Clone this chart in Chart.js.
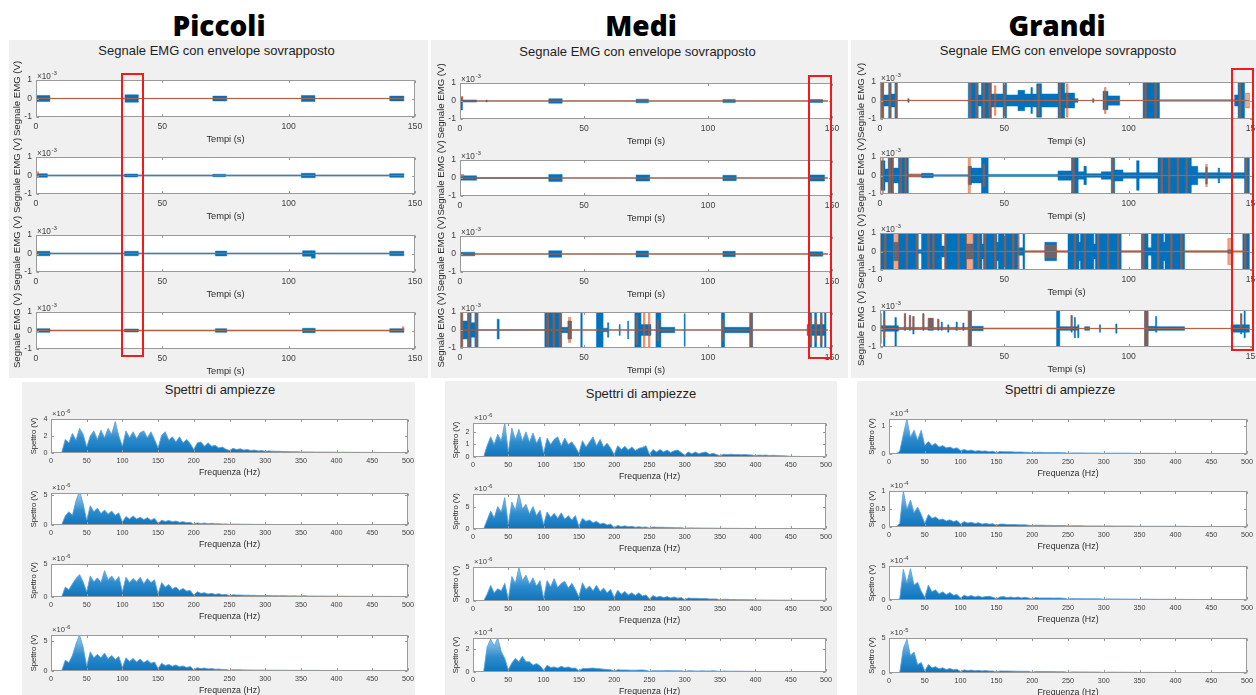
<!DOCTYPE html>
<html><head><meta charset="utf-8">
<script src="https://cdn.jsdelivr.net/npm/chart.js@4.4.1/dist/chart.umd.min.js"></script>
<style>
html,body{margin:0;padding:0;width:1256px;height:695px;overflow:hidden;background:#fff;font-family:"Liberation Sans",Arial,sans-serif;}
.panel{position:absolute;background:#f0f0f0;}
.hdr{position:absolute;top:6px;width:200px;text-align:center;font-family:"Open Sans",sans-serif;font-weight:800;font-size:28px;line-height:38px;color:#000;}
.ptitle{position:absolute;width:300px;text-align:center;font-size:13px;line-height:16px;color:#1f1f1f;white-space:nowrap;}
canvas{position:absolute;}
.red{position:absolute;box-sizing:border-box;border:2.5px solid #f21a1a;}
</style></head>
<body>
<script>
// ---------------- DATA ----------------
const GROUPS = ['Piccoli','Medi','Grandi'];
const EMG_TITLE = 'Segnale EMG con envelope sovrapposto';
const SPEC_TITLE = 'Spettri di ampiezze';
const EMG_XLABEL = 'Tempi (s)', EMG_YLABEL = 'Segnale EMG (V)';
const SPEC_XLABEL = 'Frequenza (Hz)', SPEC_YLABEL = 'Spettro (V)';
const EMG_XTICKS = [0,50,100,150];
const EMG_YTICKS = [-1,0,1];
const EMG_EXP = '-3';
const SPEC_XTICKS = [0,50,100,150,200,250,300,350,400,450,500];
const BLUE_BASE = 0.004, ORANGE_BASE = 0.01;   // quiet-baseline half-amplitude (x1e-3 V)
const EMG_END = [145.6, 148.3, 148.6];          // end of recording (s) per group

// EMG segments: [t0, t1, upper, (lower)]  in units of 1e-3 V
const P1_SIG = [[0,5.5,0.16],[35.2,40.5,0.2],[70,75.5,0.13],[105,110.4,0.16],[140,145.6,0.13]];
const P1_ENV = [];
const P2_SIG = [[0,4.5,0.1],[4.5,35,0.03],[35,40.2,0.08],[40.2,70,0.03],[70,75,0.07],[75,105,0.03],[105,110.5,0.12],[110.5,140,0.03],[140,145.6,0.1]];
const P2_ENV = [[0,1,0.2,-0.03]];
const P3_SIG = [[0,5.5,0.12],[5.5,35,0.025],[35,40.5,0.12],[40.5,71,0.025],[71,75.5,0.13],[75.5,105.5,0.025],[105.5,109,0.15],[109,110.5,0.15,-0.25],[110.5,140,0.025],[140,145.6,0.12]];
const P3_ENV = [];
const P4_SIG = [[0,5.5,0.1],[5.5,35,0.02],[35,40.5,0.08],[40.5,71,0.02],[71,75.5,0.1],[75.5,105.5,0.02],[105.5,110.5,0.12],[110.5,140,0.02],[140,145.6,0.1]];
const P4_ENV = [[145,145.6,0.2,-0.01]];

const M1_SIG = [[0.3,1,0.2,-0.5],[1,6.7,0.06],[10.5,11,0.05],[35.8,41.2,0.12],[71,76,0.1],[106,111,0.09],[141,146.3,0.08]];
const M1_ENV = [[0.3,1.2,0.25,-0.05]];
const M2_SIG = [[0.3,6.7,0.12],[6.7,35.8,0.03],[35.8,41.2,0.2],[71,76.5,0.17],[106,111.4,0.15],[141,147,0.17]];
const M2_ENV = [[0.3,1.5,0.2,-0.02]];
const M3_SIG = [[0.3,6,0.1],[35.8,41,0.18],[71,76,0.17],[106,111,0.15],[141,146.3,0.12]];
const M3_ENV = [];
const M4_SIG = [[0,1,1],[1,3,0.5],[3,4.5,1],[4.5,6,0.4],[6,7.3,1],[7.3,15,0.02],[15,15.8,0.6,-0.5],[15.8,34.2,0.02],[34.2,41,1],[41,43.5,0.15],[43.5,45,0.5],[48.7,49.3,1],[55,57.7,1],[57.7,59.5,0.1],[59.5,60,0.4],[64.2,64.6,0.3],[67.6,68,0.5],[70.5,73,1],[73,77,0.3],[79,81,1],[81,86.6,0.15],[90.4,90.8,0.9],[105.4,106.7,1],[106.7,116.8,0.15],[116.8,118,1],[140,141,0.3],[141,141.8,1],[141.8,143,0.3],[143,143.8,1],[143.8,145.3,0.3],[145.3,146,1],[146,147,0.3],[147,147.6,1]];
const M4_ENV = [[0.5,1.2,1],[3.3,4,1],[6.3,7,1],[35,35.7,1],[37.5,38.2,1],[40,40.7,1],[43.8,44.6,0.7],[71,71.6,0.8],[74,74.6,1],[76,76.6,1],[79.5,80.1,0.6],[105.6,106.2,0.6],[117,117.8,1],[141.2,141.8,0.8],[143.2,143.8,0.6],[145.4,146,0.8]];

const G1_SIG = [[0.5,1.5,1],[1.5,3.5,0.3],[3.5,4.5,1],[4.5,6,0.35],[6,7,1],[11.2,11.7,0.1],[35.5,39.5,1],[39.5,40.8,0.3],[40.8,44.8,1],[44.8,49.5,0.35],[49.5,50.9,1],[50.9,55.5,0.3],[55.5,58.2,0.55],[58.2,60.7,0.35],[60.7,61.3,0.7],[61.3,63,0.35],[63,65,0.9],[65,71.6,0.35],[71.6,74.3,1],[74.3,78.3,0.4],[78.3,79.6,0.1],[85.5,86,0.1],[89.7,91.7,0.5],[91.7,96.4,0.25],[105.8,112.4,1],[142.6,144,0.3],[144,146.6,1]];
const G1_ENV = [[0.8,1.3,1],[3.7,4.3,1],[6.2,6.8,0.9],[36,36.6,1],[38.5,39.2,1],[41.5,42.1,1],[43.8,44.5,1],[46,46.6,0.8],[49.8,50.4,1],[63.5,64.1,0.8],[72,72.6,1],[75,75.6,0.9],[90.3,90.9,0.7],[106.5,107.1,1],[110.5,111.1,1],[112.4,142.6,0.05],[144.5,145.1,1],[147,148.6,0.4]];
const G2_SIG = [[0.4,2,0.8],[2,3.3,0.35],[3.3,5.4,1],[5.4,7.4,0.4],[7.4,11.4,1],[11.4,16.7,0.06],[16.7,21.4,0.12],[21.4,35.5,0.04],[35.5,36.8,0.5],[36.8,40.8,0.4],[40.8,43.5,1],[43.5,71.6,0.06],[71.6,77,0.25],[77,79.7,1],[79.7,82,0.2],[82,83,0.5],[83,89,0.1],[89,93,0.2],[93,94.4,1],[94.4,97.7,0.3],[97.7,103.2,0.15],[103.2,104.2,0.8],[104.2,111.8,0.15],[111.8,125.2,1],[125.2,127.8,0.5],[127.8,131,0.15],[131,131.6,0.45],[131.6,136,0.15],[136,136.6,0.4],[136.6,146.6,0.15],[146.6,148.6,1]];
const G2_ENV = [[0.8,1.4,1],[3.6,4.2,1],[4.8,5.3,1],[8,8.6,1],[10,10.6,1],[11.4,16.7,0.08],[35.5,36.3,1],[41.5,42.1,0.6],[77.5,78.1,1],[93.2,93.8,1],[113,113.6,1],[116,116.6,1],[119.5,120.1,1],[123,123.6,1],[131,131.6,0.6],[147,147.6,1]];
const G3_SIG = [[0,5.4,1],[5.4,7.4,0.5],[7.4,15.4,1],[15.4,16.7,0.1],[16.7,24.8,1],[24.8,26.1,0.3],[26.1,34.8,1],[34.8,37.5,0.4],[37.5,41,1],[41,41.6,0.4],[41.6,47,1],[47,47.6,0.5],[47.6,55.6,1],[55.6,57.5,0.2],[57.5,58.2,1],[58.2,66.3,0.03],[66.3,71,0.5],[71,75.6,0.03],[75.6,80,1],[80,80.6,0.5],[80.6,86,1],[86,86.6,0.4],[86.6,97,1],[97,105.1,0.03],[105.1,107.8,1],[107.8,109.1,0.2],[109.1,114,1],[114,114.6,0.5],[114.6,122.5,1],[122.5,139.9,0.03],[139.9,141.9,0.1],[145.9,148.6,1]];
const G3_ENV = [[1.8,2.4,1],[5.4,7.4,1],[10.5,11.1,1],[14.5,15.1,1],[19.2,19.8,1],[21.2,21.8,1],[25.9,26.5,1],[31.3,31.9,1],[34.8,37.5,1],[39.3,39.9,1],[42,42.6,1],[46,46.6,1],[50,50.6,1],[53.3,53.9,1],[55.4,56,1],[58.2,66.3,0.04],[66.3,71,0.35],[71,75.6,0.04],[78.1,78.7,1],[82.1,82.7,1],[87.5,88.1,1],[91.5,92.1,1],[95.5,96.1,1],[97,105.1,0.04],[105.6,106.2,1],[111.6,112.2,1],[116.9,117.5,1],[120.9,121.5,1],[122.5,139.9,0.04],[139.9,141.9,0.7],[141.9,145.9,0.04],[146.6,147.2,1]];
const G4_SIG = [[0,1.4,0.15],[1.4,2,1],[2,6,0.15],[6,6.6,0.6,-1],[6.6,7.4,0.15],[7.4,9.8,0.06],[9.8,10.3,0.8,-0.1],[10.3,11.8,0.06],[11.8,12.3,0.7,-0.1],[12.3,13.2,0.06],[13.2,13.7,0.65,-0.3],[13.7,17.2,0.06],[17.2,17.7,0.8,-0.1],[17.7,19.4,0.06],[19.4,21.4,0.55,-0.1],[21.4,23.2,0.06],[23.2,23.7,0.5,-0.1],[23.7,24.6,0.06],[24.6,25.1,0.35,-0.1],[25.1,27.2,0.06],[27.2,27.7,0.2],[27.7,30.6,0.06],[30.6,31.1,0.35,-0.1],[31.1,33.3,0.06],[33.3,33.8,0.3,-0.1],[33.8,35.5,0.06],[35.5,36.8,1],[36.8,41.5,0.12],[41.5,71,0.02],[71,72.3,1],[72.3,76.8,0.1],[76.8,77.3,0.7,-0.2],[77.3,78.1,0.1],[78.1,78.6,0.6,-0.5],[78.6,79.5,0.1],[79.5,80,0.2,-0.5],[82.3,84.3,0.1],[88.2,88.7,0.2],[94.8,95.3,0.25],[106.4,107.8,1],[107.8,110.8,0.12],[110.8,111.3,0.65,-0.2],[111.3,122.5,0.1],[141.2,145,0.2],[145,145.5,0.8,-0.3],[145.5,146.4,0.2],[146.4,146.9,1,-0.5],[146.9,148.6,0.2]];
const G4_ENV = [[0,0.6,0.8],[1.4,2,0.5],[9.8,10.3,0.8,-0.02],[11.8,12.3,0.7,-0.02],[13.2,13.7,0.65,-0.02],[17.2,17.7,0.8,-0.02],[19.4,21.4,0.55,-0.02],[23.2,23.7,0.5,-0.02],[35.5,36.8,1],[76.8,77.3,0.7,-0.02],[106.4,107.8,0.9],[145,145.5,0.8,-0.02]];

// Spectra: frequency grid (Hz) and upper envelope values
const FREQ = [0,5,10,15,20,25,30,35,40,45,50,55,60,65,70,75,80,85,90,95,100,105,110,115,120,125,130,135,140,145,150,155,160,165,170,175,180,185,190,195,200,205,210,215,220,225,230,235,240,245,250,255,260,265,270,275,280,285,290,295,300,305,310,315,320,325,330,335,340,345,350,355,360,365,370,375,380,385,390,395,400,405,410,415,420,425,430,435,440,445,450,455,460,465,470,475,480,485,490,495,500];
const P_S1 = [0,0,0,0.05,1.6,1.2,2.3,1.5,2.9,2.2, 0.7,2.0,2.6,1.6,2.7,1.8,2.9,2.2,3.7,2.0, 0.8,2.6,1.8,2.5,1.7,2.4,2.6,1.8,2.5,1.6, 0.6,2.1,2.5,1.5,1.9,1.3,1.9,1.2,1.6,1.1, 0.4,1.2,1.3,0.8,1.2,0.8,0.9,0.6,0.7,0.45, 0.3,0.55,0.4,0.5,0.35,0.4,0.3,0.35,0.25,0.28, 0.22,0.25,0.22,0.2,0.2,0.18,0.17,0.16,0.15,0.14, 0.12,0.13,0.12,0.12,0.11,0.11,0.1,0.1,0.1,0.1, 0.09,0.09,0.09,0.08,0.08,0.08,0.08,0.07,0.07,0.07, 0.07,0.07,0.06,0.06,0.06,0.06,0.06,0.06,0.05,0.05, 0.05];
const P_S2 = [0,0,0,0.05,1.5,2.2,1.6,4.0,5.6,3.5, 0.8,3.2,2.2,2.8,1.9,2.5,1.8,2.3,1.6,2.0, 0.5,1.4,1.0,1.5,1.0,1.3,0.9,1.2,0.8,1.1, 0.3,0.8,0.6,0.75,0.55,0.65,0.45,0.55,0.4,0.45, 0.15,0.35,0.25,0.32,0.22,0.28,0.2,0.22,0.16,0.18, 0.1,0.15,0.14,0.13,0.12,0.12,0.11,0.1,0.1,0.1, 0.09,0.09,0.09,0.08,0.08,0.08,0.08,0.08,0.07,0.07, 0.07,0.07,0.07,0.07,0.06,0.06,0.06,0.06,0.06,0.06, 0.06,0.06,0.06,0.05,0.05,0.05,0.05,0.05,0.05,0.05, 0.05,0.05,0.05,0.05,0.05,0.04,0.04,0.04,0.04,0.04, 0.04];
const P_S3 = [0,0,0,0.05,1.5,1.1,2.0,2.8,3.4,2.3, 0.8,3.2,2.3,2.9,2.2,4.0,2.6,3.2,2.4,3.1, 0.8,3.0,2.2,2.8,2.3,3.0,2.0,2.8,2.2,2.6, 0.5,2.2,1.5,1.9,1.2,1.5,1.0,1.3,0.9,1.0, 0.3,0.8,0.55,0.65,0.45,0.55,0.4,0.5,0.35,0.4, 0.2,0.35,0.3,0.3,0.28,0.28,0.25,0.25,0.22,0.22, 0.2,0.22,0.2,0.2,0.18,0.2,0.18,0.17,0.18,0.16, 0.16,0.2,0.15,0.15,0.14,0.14,0.14,0.13,0.13,0.13, 0.12,0.12,0.12,0.11,0.11,0.11,0.1,0.1,0.1,0.1, 0.1,0.09,0.09,0.09,0.09,0.09,0.08,0.08,0.08,0.08, 0.08];
const P_S4 = [0,0,0,0.05,1.8,1.4,2.6,4.5,6.0,4.0, 0.8,3.2,2.2,2.8,2.2,3.0,2.0,2.6,1.9,2.4, 0.6,2.2,1.6,2.1,1.5,2.0,1.4,1.8,1.3,1.5, 0.4,1.3,0.9,1.1,0.8,1.0,0.7,0.85,0.6,0.75, 0.2,0.55,0.4,0.5,0.35,0.4,0.3,0.32,0.25,0.25, 0.12,0.22,0.2,0.2,0.18,0.18,0.16,0.16,0.15,0.15, 0.14,0.14,0.13,0.13,0.12,0.12,0.12,0.11,0.11,0.11, 0.1,0.11,0.1,0.1,0.1,0.1,0.09,0.09,0.09,0.09, 0.09,0.08,0.08,0.08,0.08,0.08,0.08,0.07,0.07,0.07, 0.07,0.07,0.07,0.07,0.06,0.06,0.06,0.06,0.06,0.06, 0.06];
const M_S1 = [0,0,0,0,0.9,1.6,1.0,1.8,1.3,2.7, 0.4,2.3,1.4,2.2,1.3,2.0,1.2,1.9,1.1,1.6, 0.3,1.5,1.0,1.4,1.6,0.9,1.5,1.0,1.2,0.8, 0.3,1.3,0.8,1.2,1.6,0.9,1.4,0.8,1.1,0.7, 0.2,0.9,0.6,0.85,0.55,0.8,0.5,0.7,0.75,0.9, 0.2,0.6,0.4,0.6,0.4,0.55,0.35,0.5,0.55,0.35, 0.15,0.4,0.25,0.4,0.25,0.35,0.4,0.22,0.3,0.2, 0.1,0.22,0.2,0.22,0.2,0.2,0.18,0.2,0.17,0.16, 0.12,0.15,0.14,0.15,0.12,0.13,0.12,0.1,0.1,0.08, 0.05,0.05,0.05,0.04,0.04,0.04,0.04,0.04,0.04,0.04, 0.04];
const M_S2 = [0,0,0,0,2.0,4.0,2.5,5.0,3.8,7.0, 1.0,6.0,4.2,7.8,4.5,5.5,3.4,5.0,3.0,4.2, 1.0,3.8,2.6,3.5,2.4,3.6,2.2,3.0,2.0,3.0, 0.6,2.4,1.7,2.0,1.4,1.7,1.1,1.3,0.9,1.1, 0.3,0.8,0.55,0.7,0.5,0.6,0.4,0.5,0.38,0.45, 0.2,0.45,0.4,0.4,0.38,0.35,0.35,0.3,0.3,0.3, 0.15,0.25,0.25,0.22,0.22,0.2,0.2,0.2,0.18,0.18, 0.15,0.16,0.15,0.15,0.14,0.14,0.13,0.13,0.12,0.12, 0.12,0.12,0.11,0.11,0.1,0.1,0.1,0.1,0.09,0.09, 0.09,0.08,0.08,0.08,0.08,0.08,0.08,0.08,0.08,0.08, 0.08];
const M_S3 = [0,0,0,0,1.0,2.3,1.2,1.8,1.5,2.6, 0.3,3.6,2.6,4.9,3.0,3.8,2.5,3.4,2.2,3.0, 0.4,3.0,2.1,3.3,2.0,2.6,2.9,1.9,2.6,1.7, 0.6,2.7,1.7,2.2,1.5,2.3,1.4,1.9,1.2,1.7, 0.5,1.6,1.0,1.4,0.9,1.2,0.8,1.2,0.75,0.9, 0.3,0.8,0.55,0.7,0.5,0.65,0.45,0.6,0.42,0.5, 0.2,0.45,0.4,0.4,0.38,0.35,0.35,0.3,0.3,0.3, 0.15,0.25,0.25,0.22,0.22,0.2,0.2,0.2,0.18,0.18, 0.15,0.15,0.15,0.14,0.14,0.13,0.13,0.12,0.12,0.12, 0.12,0.1,0.1,0.1,0.1,0.1,0.1,0.1,0.1,0.1, 0.1];
const M_S4 = [0,0,0,0,2.2,2.9,2.3,3.0,1.8,1.2, 0.2,0.8,1.2,0.9,1.4,0.9,0.9,0.6,0.75,0.55, 0.15,0.6,0.4,0.45,0.35,0.5,0.38,0.45,0.33,0.35, 0.1,0.3,0.3,0.32,0.35,0.3,0.28,0.25,0.22,0.2, 0.08,0.2,0.18,0.18,0.17,0.16,0.16,0.17,0.18,0.15, 0.06,0.12,0.12,0.11,0.12,0.13,0.12,0.11,0.1,0.1, 0.06,0.1,0.1,0.09,0.09,0.1,0.09,0.09,0.1,0.08, 0.05,0.08,0.08,0.07,0.07,0.07,0.07,0.06,0.06,0.06, 0.05,0.05,0.05,0.05,0.05,0.05,0.05,0.05,0.05,0.05, 0.04,0.04,0.04,0.04,0.04,0.04,0.04,0.04,0.04,0.04, 0.04];
const G_S1 = [0,0,0,0.1,0.7,1.25,0.6,0.85,0.5,0.85, 0.3,0.45,0.3,0.38,0.25,0.3,0.22,0.25,0.19,0.22, 0.12,0.16,0.12,0.14,0.1,0.12,0.1,0.11,0.08,0.1, 0.05,0.09,0.08,0.08,0.08,0.07,0.07,0.07,0.06,0.06, 0.04,0.06,0.06,0.055,0.05,0.05,0.05,0.05,0.045,0.045, 0.03,0.04,0.04,0.04,0.04,0.035,0.035,0.035,0.035,0.03, 0.025,0.03,0.03,0.03,0.03,0.03,0.03,0.03,0.025,0.025, 0.02,0.025,0.025,0.025,0.025,0.025,0.02,0.02,0.02,0.02, 0.02,0.02,0.02,0.02,0.02,0.02,0.02,0.02,0.02,0.02, 0.015,0.015,0.015,0.015,0.015,0.015,0.015,0.015,0.015,0.015, 0.015];
const G_S2 = [0,0,0,0.1,1.0,0.5,0.75,0.4,0.55,0.35, 0.1,0.35,0.24,0.28,0.2,0.22,0.17,0.2,0.15,0.18, 0.08,0.15,0.11,0.13,0.1,0.12,0.08,0.1,0.08,0.09, 0.05,0.08,0.08,0.07,0.07,0.07,0.06,0.06,0.06,0.05, 0.04,0.05,0.05,0.05,0.045,0.045,0.04,0.04,0.04,0.04, 0.03,0.035,0.035,0.035,0.035,0.03,0.03,0.03,0.03,0.03, 0.025,0.03,0.03,0.025,0.025,0.025,0.025,0.025,0.025,0.02, 0.02,0.02,0.02,0.02,0.02,0.02,0.02,0.02,0.02,0.02, 0.02,0.02,0.02,0.02,0.015,0.015,0.015,0.015,0.015,0.015, 0.015,0.015,0.015,0.015,0.015,0.015,0.015,0.015,0.015,0.015, 0.015];
const G_S3 = [0,0,0,0.2,4.5,2.5,4.6,2.2,2.6,1.3, 0.4,2.2,1.2,1.5,0.9,1.2,0.8,1.1,0.7,0.8, 0.3,0.7,0.5,0.65,0.45,0.6,0.4,0.5,0.55,0.4, 0.2,0.45,0.5,0.35,0.45,0.32,0.45,0.3,0.4,0.3, 0.15,0.35,0.3,0.3,0.3,0.3,0.28,0.3,0.28,0.25, 0.1,0.22,0.2,0.2,0.2,0.18,0.18,0.18,0.17,0.17, 0.1,0.16,0.15,0.15,0.15,0.14,0.14,0.13,0.13,0.13, 0.08,0.12,0.12,0.11,0.11,0.1,0.1,0.1,0.1,0.09, 0.07,0.09,0.09,0.08,0.08,0.08,0.08,0.07,0.07,0.07, 0.06,0.06,0.06,0.06,0.05,0.05,0.05,0.05,0.05,0.05, 0.05];
const G_S4 = [0,0,0,0.1,3.5,4.8,2.5,3.0,1.2,1.5, 0.3,1.2,0.75,0.9,0.6,0.75,0.5,0.65,0.45,0.55, 0.2,0.45,0.35,0.42,0.32,0.38,0.3,0.35,0.28,0.3, 0.15,0.3,0.28,0.28,0.27,0.26,0.25,0.25,0.24,0.24, 0.1,0.22,0.22,0.2,0.2,0.2,0.2,0.18,0.18,0.18, 0.08,0.16,0.16,0.15,0.15,0.15,0.14,0.14,0.13,0.13, 0.07,0.12,0.12,0.12,0.11,0.11,0.11,0.1,0.1,0.1, 0.06,0.09,0.09,0.09,0.08,0.08,0.08,0.08,0.07,0.07, 0.05,0.07,0.07,0.06,0.06,0.06,0.06,0.06,0.05,0.05, 0.04,0.05,0.05,0.05,0.05,0.05,0.05,0.05,0.05,0.05, 0.05];

const SPEC_YMAX = [[4,5.3,5,6],[2.7,7.8,5,3],[1.25,1,5,5]];
const SPEC_YTICKS = [[[0,2,4],[0,5],[0,5],[0,5]],[[0,1,2],[0,5],[0,5],[0,2]],[[0,1],[0,0.5,1],[0,5],[0,5]]];
const SPEC_EXP = [['-6','-6','-6','-6'],['-6','-6','-6','-4'],['-4','-4','-4','-5']];

const EMG_SIG = [[P1_SIG,P2_SIG,P3_SIG,P4_SIG],[M1_SIG,M2_SIG,M3_SIG,M4_SIG],[G1_SIG,G2_SIG,G3_SIG,G4_SIG]];
const EMG_ENV = [[P1_ENV,P2_ENV,P3_ENV,P4_ENV],[M1_ENV,M2_ENV,M3_ENV,M4_ENV],[G1_ENV,G2_ENV,G3_ENV,G4_ENV]];
const SPEC = [[P_S1,P_S2,P_S3,P_S4],[M_S1,M_S2,M_S3,M_S4],[G_S1,G_S2,G_S3,G_S4]];

// ---------------- LAYOUT ----------------
const PANELS = [
  {l:9,t:40,w:419,h:338},{l:431,t:40,w:417,h:338},{l:851,t:40,w:405,h:338},
  {l:22,t:382,w:393,h:313},{l:445,t:381,w:392,h:314},{l:857,t:381,w:399,h:314}
];
const HDR_X = [219,641,1057];
const EMG_TITLE_POS = [[216.5,50.7],[637.5,52],[1058,50.7]];
const SPEC_TITLE_POS = [[220,390],[641,394],[1060,390]];
const EMG_BOX = [
  {l:36,r:415,tops:[80,157,235,312],h:37},
  {l:460,r:832,tops:[83,160,236,312],h:36},
  {l:880,r:1253,tops:[82,157,233,310],h:37}];
const SPEC_BOX = [
  {l:51,r:408,tops:[419,493,564,635],bots:[453,525,597,671]},
  {l:473,r:826,tops:[423,494,567,638],bots:[457,529,601,672]},
  {l:889,r:1247,tops:[419,491,566,638],bots:[454,527,600,673]}];
const RED_BOX = [[120.8,72.8,22.8,284.5],[807.8,75,24.2,284],[1231,67.8,22.6,283.5]];

const FONT = '"Liberation Sans", Arial, Helvetica, sans-serif';
const TXT = '#3d3d3d', TXT2 = '#2b2b2b';
const BLUE = '#0072BD';
const ORANGE_LINE = 'rgba(217,83,25,0.6)', ORANGE_FILL = 'rgba(217,83,25,0.5)';
Chart.defaults.font.family = FONT;

// ---------------- BUILD ----------------
function addDiv(cls, css, text){ const d=document.createElement('div'); d.className=cls; Object.assign(d.style,css); if(text) d.textContent=text; document.body.appendChild(d); return d; }
PANELS.forEach(p=>addDiv('panel',{left:p.l+'px',top:p.t+'px',width:p.w+'px',height:p.h+'px'}));
GROUPS.forEach((g,i)=>addDiv('hdr',{left:(HDR_X[i]-100)+'px'},g));
EMG_TITLE_POS.forEach(p=>addDiv('ptitle',{left:(p[0]-150)+'px',top:(p[1]-8)+'px'},EMG_TITLE));
SPEC_TITLE_POS.forEach(p=>addDiv('ptitle',{left:(p[0]-150)+'px',top:(p[1]-8)+'px'},SPEC_TITLE));

function stepPts(segs, base, end, sign){
  const pts=[{x:0,y:sign*base}];
  for(const s of segs){
    const v = sign>0 ? s[2] : (s.length>3 ? s[3] : -s[2]);
    pts.push({x:s[0],y:v}); pts.push({x:s[1],y:sign*base});
  }
  pts.push({x:end,y:sign*base});
  return pts;
}

function boxPlugin(xt, yt, exp, expSize, expDy){
  return {id:'mbox',
    beforeDraw(c){ const a=c.chartArea,g=c.ctx; g.save(); g.fillStyle='#fff'; g.fillRect(a.left,a.top,a.right-a.left,a.bottom-a.top); g.restore(); },
    afterDraw(c){
      const a=c.chartArea,g=c.ctx; g.save();
      g.strokeStyle='#9a9a9a'; g.lineWidth=1;
      const L=Math.round(a.left)+0.5,R=Math.round(a.right)-0.5,T=Math.round(a.top)+0.5,B=Math.round(a.bottom)-0.5;
      g.strokeRect(L,T,R-L,B-T);
      g.beginPath();
      xt.forEach(v=>{const px=Math.round(c.scales.x.getPixelForValue(v))+0.5; g.moveTo(px,B); g.lineTo(px,B-2.5); g.moveTo(px,T); g.lineTo(px,T+2.5);});
      yt.forEach(v=>{const py=Math.round(c.scales.y.getPixelForValue(v))+0.5; g.moveTo(L,py); g.lineTo(L+2.5,py); g.moveTo(R,py); g.lineTo(R-2.5,py);});
      g.stroke();
      g.fillStyle=TXT; g.textBaseline='alphabetic'; g.textAlign='left';
      g.font=expSize+'px '+FONT;
      const x0=a.left+1, y0=a.top-expDy;
      g.fillText('\u00d710',x0,y0);
      const w=g.measureText('\u00d710').width;
      g.font=(expSize*0.75)+'px '+FONT;
      g.fillText(exp,x0+w+0.5,y0-expSize*0.42);
      g.restore();
    }};
}

function mkChart(s){
  const W=s.right-s.left+s.L+s.R, H=s.bottom-s.top+s.T+s.B;
  const cv=document.createElement('canvas');
  cv.width=W; cv.height=H;
  Object.assign(cv.style,{left:(s.left-s.L)+'px',top:(s.top-s.T)+'px',width:W+'px',height:H+'px'});
  document.body.appendChild(cv);
  new Chart(cv,{type:'line',data:{datasets:s.datasets},
    options:{responsive:false,animation:false,devicePixelRatio:1,events:[],
      layout:{padding:{top:s.T,right:s.R,left:0,bottom:0}},
      plugins:{legend:{display:false},tooltip:{enabled:false},title:{display:false}},
      elements:{point:{radius:0},line:{tension:0}},
      scales:{
        x:{type:'linear',min:s.xmin,max:s.xmax,grid:{display:false,drawTicks:false,tickLength:0},border:{display:false},
          afterBuildTicks:sc=>{sc.ticks=s.xticks.map(v=>({value:v}));},
          afterFit:sc=>{sc.height=s.B;sc.paddingLeft=0;sc.paddingRight=0;sc.paddingTop=0;sc.paddingBottom=0;},
          ticks:{font:{family:FONT,size:s.tickSize},color:TXT,padding:s.xtpad,maxRotation:0,minRotation:0,autoSkip:false,callback:v=>String(v)},
          title:{display:true,text:s.xlabel,font:{family:FONT,size:s.xlabSize},color:TXT2,padding:{top:0,bottom:s.xlpad}}},
        y:{type:'linear',min:s.ymin,max:s.ymax,grid:{display:false,drawTicks:false,tickLength:0},border:{display:false},
          afterBuildTicks:sc=>{sc.ticks=s.yticks.map(v=>({value:v}));},
          afterFit:sc=>{sc.width=s.L;sc.paddingTop=0;sc.paddingBottom=0;},
          ticks:{font:{family:FONT,size:s.tickSize},color:TXT,padding:s.ytpad,autoSkip:false,callback:v=>String(v)},
          title:{display:true,text:s.ylabel,font:{family:FONT,size:s.ylabSize},color:TXT2,padding:{top:s.ylpad,bottom:0}}}
      }},
    plugins:[boxPlugin(s.xticks,s.yticks,s.exp,s.expSize,s.expDy)]});
}

function lineSet(pts,color,fillColor,bw){
  return {data:pts,borderColor:color,backgroundColor:fillColor,borderWidth:bw,fill:'origin',stepped:true,pointRadius:0};
}

function specFill(ctx){
  const ch=ctx.chart, a=ch.chartArea;
  if(!a) return 'rgba(0,114,189,0.85)';
  const gr=ch.ctx.createLinearGradient(0,a.bottom,0,a.top);
  gr.addColorStop(0,'rgba(0,108,184,0.95)');
  gr.addColorStop(0.45,'rgba(10,120,196,0.85)');
  gr.addColorStop(1,'rgba(120,182,230,0.75)');
  return gr;
}

for(let g=0; g<3; g++){
  const b=EMG_BOX[g];
  for(let k=0;k<4;k++){
    const sig=EMG_SIG[g][k], env=EMG_ENV[g][k], end=EMG_END[g];
    mkChart({left:b.l,right:b.r,top:b.tops[k],bottom:b.tops[k]+b.h,L:32,T:24,R:16,B:32,
      xmin:0,xmax:150,xticks:EMG_XTICKS,ymin:-1,ymax:1,yticks:EMG_YTICKS,
      xlabel:EMG_XLABEL,ylabel:EMG_YLABEL,tickSize:8.6,xlabSize:9.3,ylabSize:9.6,
      xtpad:4.8,xlpad:3.5,ytpad:4,ylpad:7.3,exp:EMG_EXP,expSize:8.2,expDy:1.5,
      datasets:[
        lineSet(stepPts(env,ORANGE_BASE,end,1),ORANGE_LINE,ORANGE_FILL,0.8),
        lineSet(stepPts(env,ORANGE_BASE,end,-1),ORANGE_LINE,ORANGE_FILL,0.8),
        lineSet(stepPts(sig,BLUE_BASE,end,1),BLUE,BLUE,0.5),
        lineSet(stepPts(sig,BLUE_BASE,end,-1),BLUE,BLUE,0.5)
      ]});
  }
  const sb=SPEC_BOX[g];
  for(let k=0;k<4;k++){
    const vals=SPEC[g][k];
    mkChart({left:sb.l,right:sb.r,top:sb.tops[k],bottom:sb.bots[k],L:28,T:16,R:14,B:26,
      xmin:0,xmax:500,xticks:SPEC_XTICKS,ymin:0,ymax:SPEC_YMAX[g][k],yticks:SPEC_YTICKS[g][k],
      xlabel:SPEC_XLABEL,ylabel:SPEC_YLABEL,tickSize:7.2,xlabSize:8.8,ylabSize:7.6,
      xtpad:3.7,xlpad:0.9,ytpad:3.5,ylpad:6.4,exp:SPEC_EXP[g][k],expSize:7.6,expDy:3,
      datasets:[{data:FREQ.map((f,i)=>({x:f,y:vals[i]})),borderColor:'rgba(90,160,220,0.95)',backgroundColor:specFill,borderWidth:0.9,fill:'origin',pointRadius:0,tension:0}]});
  }
}

RED_BOX.forEach(r=>addDiv('red',{left:r[0]+'px',top:r[1]+'px',width:r[2]+'px',height:r[3]+'px'}));
</script>
</body></html>
